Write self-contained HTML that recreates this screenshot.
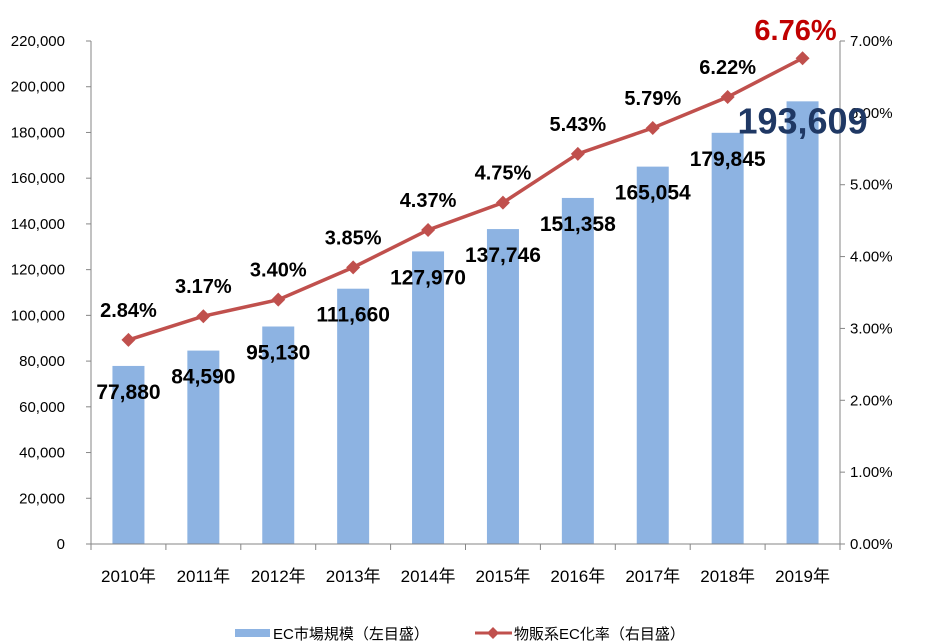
<!DOCTYPE html>
<html><head><meta charset="utf-8"><style>
html,body{margin:0;padding:0;background:#fff;}
svg{display:block;font-family:"Liberation Sans","Noto Sans CJK JP",sans-serif;}
</style></head><body>
<svg id="chart" width="925" height="643" viewBox="0 0 925 643"></svg>
<script>
const categories=["2010年","2011年","2012年","2013年","2014年","2015年","2016年","2017年","2018年","2019年"];
const marketValues=[77880,84590,95130,111660,127970,137746,151358,165054,179845,193609];
const rateValues=[2.84,3.17,3.40,3.85,4.37,4.75,5.43,5.79,6.22,6.76];
const leftTicks=[0,20000,40000,60000,80000,100000,120000,140000,160000,180000,200000,220000];
const rightTicks=[0,1,2,3,4,5,6,7];

const NS="http://www.w3.org/2000/svg";
const svg=document.getElementById('chart');
const X0=91,X1=840,Y0=544,Y1=41;
const band=(X1-X0)/categories.length;
const xc=i=>X0+band*(i+0.5);
const yL=v=>Y0-(v/220000)*(Y0-Y1);
const yR=v=>Y0-(v/7)*(Y0-Y1);
function el(t,a,txt){const e=document.createElementNS(NS,t);for(const k in a)e.setAttribute(k,a[k]);if(txt!==undefined)e.textContent=txt;svg.appendChild(e);return e;}
const fmt=n=>n.toLocaleString('en-US');

categories.forEach((c,i)=>{
  const b=el('rect',{x:xc(i)-16,y:yL(marketValues[i]),width:32,height:Y0-yL(marketValues[i]),fill:'#8DB3E2'});
  
  
});
let a=el('line',{x1:X0,y1:Y1,x2:X0,y2:Y0,stroke:'#868686','stroke-width':1});

a=el('line',{x1:X1,y1:Y1,x2:X1,y2:Y0,stroke:'#868686','stroke-width':1});

a=el('line',{x1:X0,y1:Y0,x2:X1,y2:Y0,stroke:'#868686','stroke-width':1});

leftTicks.forEach(v=>{
  el('line',{x1:X0-5,y1:yL(v),x2:X0,y2:yL(v),stroke:'#868686'});
  const t=el('text',{x:X0-26,y:yL(v)+5,'text-anchor':'end','font-size':15,fill:'#000'},fmt(v));
  
  
});
rightTicks.forEach(v=>{
  el('line',{x1:X1,y1:yR(v),x2:X1+5,y2:yR(v),stroke:'#868686'});
  const t=el('text',{x:X1+10,y:yR(v)+5,'font-size':15,fill:'#000'},v.toFixed(2)+'%');
  
  
});
for(let i=0;i<=categories.length;i++){el('line',{x1:X0+band*i,y1:Y0,x2:X0+band*i,y2:Y0+6,stroke:'#868686'});}
categories.forEach((c,i)=>{
  const t=el('text',{x:xc(i),y:582,'text-anchor':'middle','font-size':17,fill:'#000'},c);
  
  
});
const pts=rateValues.map((v,i)=>xc(i)+','+yR(v)).join(' ');
const pl=el('polyline',{points:pts,fill:'none',stroke:'#C0504D','stroke-width':3.5});


rateValues.forEach((v,i)=>{
  const x=xc(i),y=yR(v);
  const m=el('polygon',{points:`${x},${y-7} ${x+7},${y} ${x},${y+7} ${x-7},${y}`,fill:'#C0504D'});
  
  
});
marketValues.forEach((v,i)=>{
  const last=i===marketValues.length-1;
  const t=el('text',{x:xc(i),y:last?yL(v)+32:yL(v)+33,'text-anchor':'middle','font-size':last?36:21,'font-weight':'bold',fill:last?'#1F3864':'#000'},fmt(v));
  
  
});
rateValues.forEach((v,i)=>{
  const last=i===rateValues.length-1;
  const t=el('text',{x:xc(i)-(last?7:0),y:last?yR(v)-18:yR(v)-23,'text-anchor':'middle','font-size':last?29:20,'font-weight':'bold',fill:last?'#C00000':'#000'},v.toFixed(2)+'%');
  
  
});
let g=el('rect',{x:235,y:629,width:35,height:8,fill:'#8DB3E2'});

g=el('text',{x:273,y:639,'font-size':15,fill:'#000'},'EC市場規模（左目盛）');

g=el('line',{x1:475,y1:633,x2:512,y2:633,stroke:'#C0504D','stroke-width':3});

el('polygon',{points:'493,627 499,633 493,639 487,633',fill:'#C0504D'});
g=el('text',{x:514,y:639,'font-size':15,fill:'#000'},'物販系EC化率（右目盛）');

</script>
</body></html>
